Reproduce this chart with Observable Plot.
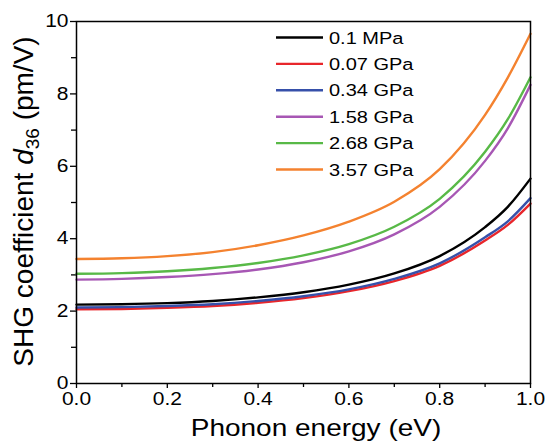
<!DOCTYPE html>
<html><head><meta charset="utf-8">
<script src="https://cdn.jsdelivr.net/npm/d3@7"></script>
<script src="https://cdn.jsdelivr.net/npm/@observablehq/plot@0.6"></script>
<style>body{margin:0;background:#fff}</style>
</head><body><div id="chart"></div>
<script>
// Data
const energy = [0, 0.1, 0.2, 0.3, 0.4, 0.5, 0.6, 0.7, 0.8, 0.9, 0.95, 1.0];
const seriesNames = ["0.1 MPa", "0.07 GPa", "0.34 GPa", "1.58 GPa", "2.68 GPa", "3.57 GPa"];
const seriesColors = ["#000000", "#e8262b", "#3650aa", "#a757b4", "#58b947", "#f4822f"];
const d36_01MPa  = [2.18, 2.19, 2.22, 2.28, 2.38, 2.52, 2.73, 3.04, 3.52, 4.32, 4.88, 5.66];
const d36_007GPa = [2.05, 2.06, 2.09, 2.14, 2.23, 2.36, 2.55, 2.83, 3.25, 3.95, 4.38, 4.97];
const d36_034GPa = [2.10, 2.11, 2.14, 2.19, 2.28, 2.41, 2.60, 2.89, 3.32, 4.04, 4.48, 5.12];
const d36_158GPa = [2.87, 2.89, 2.94, 3.02, 3.15, 3.35, 3.65, 4.12, 4.88, 6.15, 7.05, 8.25];
const d36_268GPa = [3.03, 3.05, 3.10, 3.19, 3.33, 3.54, 3.85, 4.33, 5.10, 6.40, 7.30, 8.46];
const d36_357GPa = [3.44, 3.46, 3.52, 3.63, 3.82, 4.09, 4.47, 5.02, 5.92, 7.42, 8.45, 9.66];
const xTicks = [0, 0.2, 0.4, 0.6, 0.8, 1.0];
const xMinorTicks = [0.1, 0.3, 0.5, 0.7, 0.9];
const yTicks = [0, 2, 4, 6, 8, 10];
const yMinorTicks = [1, 3, 5, 7, 9];
const xLabel = "Phonon energy (eV)";
const yLabelParts = ["SHG coefficient ", "d", "36", " (pm/V)"];

const allSeries = [d36_01MPa, d36_007GPa, d36_034GPa, d36_158GPa, d36_268GPa, d36_357GPa];
const rows = [];
allSeries.forEach((vals, si) => vals.forEach((v, i) => rows.push({energy: energy[i], d: v, series: seriesNames[si]})));

const FONT = "'Liberation Sans', Arial, Helvetica, sans-serif";
const plot = Plot.plot({
  width: 545, height: 444,
  marginLeft: 76, marginRight: 15, marginTop: 21, marginBottom: 61,
  x: {domain: [0, 1]},
  y: {domain: [0, 10]},
  color: {domain: seriesNames, range: seriesColors},
  style: {fontFamily: FONT, background: "#fff", color: "#000", overflow: "visible"},
  marks: [
    Plot.axisX(xTicks, {tickSize: 5, tickPadding: 4, tickFormat: d3.format(".1f"), label: null, stroke: "#000", strokeWidth: 1.3}),
    Plot.axisX(xMinorTicks, {tickSize: 4, tickFormat: () => "", label: null, stroke: "#000", strokeWidth: 1.3}),
    Plot.axisY(yTicks, {tickSize: 6, tickPadding: 2, label: null, stroke: "#000", strokeWidth: 1.3}),
    Plot.axisY(yMinorTicks, {tickSize: 5, tickFormat: () => "", label: null, stroke: "#000", strokeWidth: 1.3}),
    Plot.line(rows, {x: "energy", y: "d", z: "series", stroke: "series", strokeWidth: 2.4, curve: "monotone-x"}),
    Plot.frame({stroke: "#000", strokeWidth: 1.5})
  ]
});

const svg = d3.select(plot);
// tick labels (the only texts Plot drew): larger, squashed slightly vertically like the reference
svg.selectAll("text").each(function() {
  const t = this.getAttribute("transform") || "";
  this.setAttribute("transform", t + " scale(1,0.86)");
  this.setAttribute("font-size", "21");
  this.style.fontSize = "21px";
});

// legend
const lg = svg.append("g").attr("font-family", FONT).attr("text-anchor", "start");
seriesNames.forEach((name, i) => {
  const y = 37.5 + i * 26.4;
  lg.append("line").attr("x1", 276).attr("x2", 323).attr("y1", y).attr("y2", y)
    .attr("stroke", seriesColors[i]).attr("stroke-width", 2.4);
  lg.append("text").attr("transform", `translate(329,${y}) scale(1,0.86)`)
    .attr("text-anchor", "start").attr("dy", "0.36em").attr("font-size", 20).attr("fill", "#000").text(name);
});

// x title
svg.append("text").attr("transform", "translate(316,436) scale(1,0.86)")
  .attr("text-anchor", "middle").attr("font-family", FONT).attr("font-size", 28).attr("fill", "#000")
  .text(xLabel);

// y title with italic d and subscript 36
const yt = svg.append("text").attr("transform", "translate(33,201.5) rotate(-90)")
  .attr("text-anchor", "middle").attr("font-family", FONT).attr("font-size", 28).attr("fill", "#000");
yt.append("tspan").text(yLabelParts[0]);
yt.append("tspan").attr("font-style", "italic").text(yLabelParts[1]);
yt.append("tspan").attr("font-size", 19).attr("dy", 6).text(yLabelParts[2]);
yt.append("tspan").attr("dy", -6).text(yLabelParts[3]);

document.getElementById("chart").appendChild(plot);
</script>
</body></html>
